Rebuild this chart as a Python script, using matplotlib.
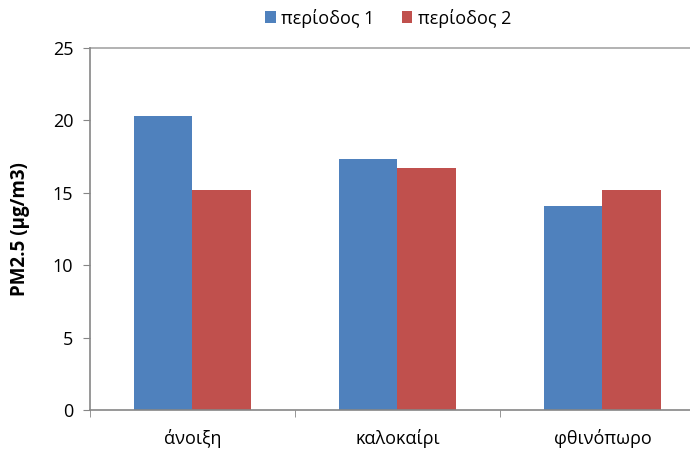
import numpy as np
import matplotlib.pyplot as plt

plt.rcParams['font.family'] = ['Open Sans', 'DejaVu Sans']

# data
seasons = ['άνοιξη', 'καλοκαίρι', 'φθινόπωρο']
period1 = [20.3, 17.3, 14.1]
period2 = [15.2, 16.7, 15.2]

fig = plt.figure(figsize=(6.9, 4.58), dpi=100)
# plot area runs past the right edge of the picture, like the original
ax = fig.add_axes([90 / 690, 48 / 458, 615 / 690, 362 / 458])

x = np.arange(len(seasons))
w = 0.283
ax.bar(x - w / 2, period1, w, color='#4F81BD', label='περίοδος 1')
ax.bar(x + w / 2, period2, w, color='#C0504D', label='περίοδος 2')

ax.set_xlim(-0.5, 2.5)
ax.set_ylim(0, 25)
ax.set_yticks([0, 5, 10, 15, 20, 25])
ax.set_xticks(x)
ax.set_xticklabels(seasons)
ax.set_xticks([-0.5, 0.5, 1.5, 2.5], minor=True)
ax.tick_params(axis='x', which='major', length=0, pad=14, labelsize=13)
ax.tick_params(axis='x', which='minor', length=5, color='#868686', direction='out')
ax.tick_params(axis='y', length=5, color='#868686', direction='out', labelsize=13, pad=7)

for s in ['top', 'right']:
    ax.spines[s].set_visible(False)
for s in ['left', 'bottom']:
    ax.spines[s].set_color('#868686')
    ax.spines[s].set_linewidth(1.2)
ax.axhline(25, color='#a6a6a6', lw=1.2, clip_on=False)

ax.set_ylabel('PM2.5 (μg/m3)', fontweight='bold', fontsize=13.5)
ax.yaxis.set_label_coords(-0.098, 0.5)

ax.legend(loc='center', bbox_to_anchor=(388 / 690, 1 - 18 / 458), bbox_transform=fig.transFigure,
          ncol=2, frameon=False, fontsize=13, handlelength=0.6, handleheight=0.6,
          handletextpad=0.3, columnspacing=1.5)

fig.savefig('out.png', dpi=100)
